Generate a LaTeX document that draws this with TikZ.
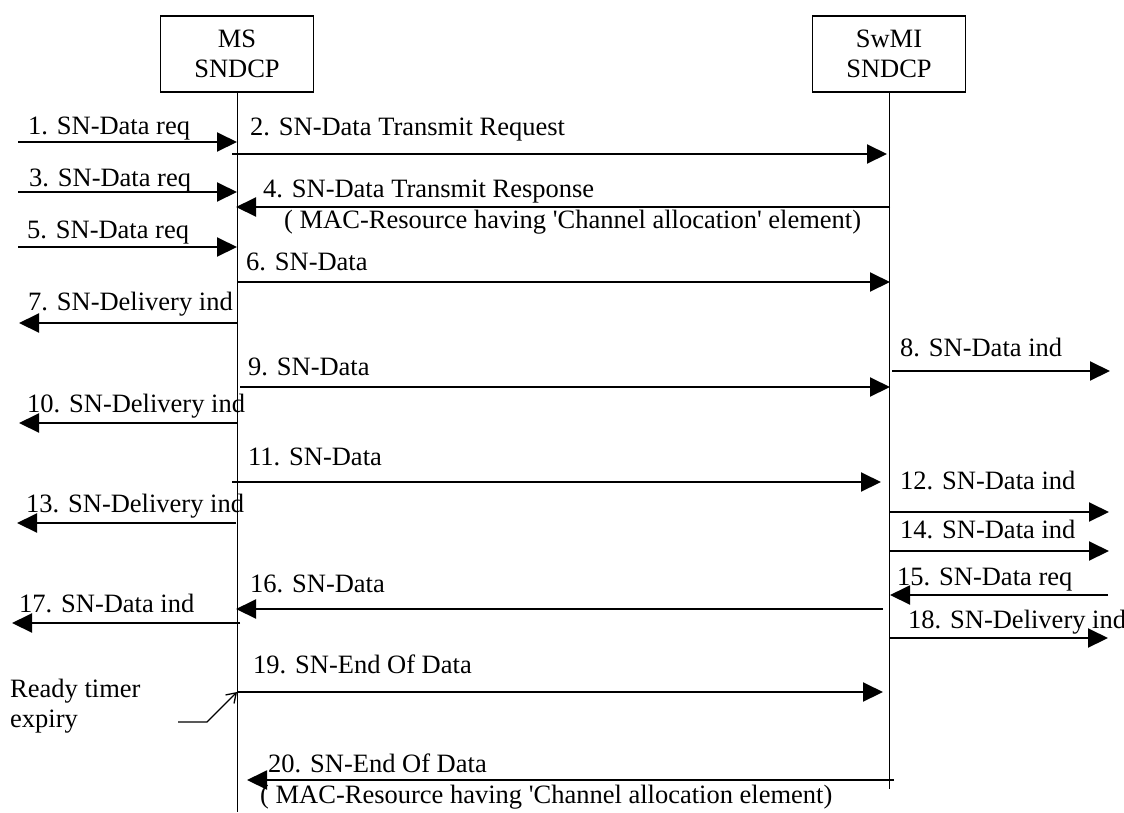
\documentclass[tikz,border=0pt]{standalone}
\usepackage{fontspec}
\setmainfont{Liberation Serif}
\usetikzlibrary{positioning,arrows.meta}
\tikzset{
  flowarrow/.style={-{Triangle[length=20pt, width=19pt]}, line width=2pt},
  timerarrow/.style={-{Straight Barb[length=9pt, width=12pt]}, line width=1.3pt},
  lifeline/.style={line width=1pt},
  entitybox/.style={draw, line width=1.6pt, minimum width=153pt, minimum height=76pt, align=center, inner sep=0pt},
  msglabel/.style={anchor=base west, inner sep=0pt},
  notelabel/.style={anchor=north west, inner sep=0pt, align=left}
}

\begin{document}
\begin{tikzpicture}[x=1pt, y=-1pt, every node/.style={font=\fontsize{26.5}{30}\selectfont}]
  \useasboundingbox (0,0) rectangle (1124,812);
  % the two SNDCP entities
  \node[entitybox] (ms) at (237,54) {MS\\SNDCP};
  \node[entitybox] (swmi) at (889,54) {SwMI\\SNDCP};
  \coordinate (msend) at (237,812);
  \coordinate (swmiend) at (889,789);
  \draw[lifeline] (ms.south) -- (msend);
  \draw[lifeline] (swmi.south) -- (swmiend);

  % 1 - 5
  \coordinate (m1s) at (18,142);  \coordinate (m1e) at (237,142);
  \draw[flowarrow] (m1s) -- (m1e);
  \node[msglabel] (l1) at (28,134) {1. SN-Data req};
  \coordinate (m2s) at (232,154); \coordinate (m2e) at (887,154);
  \draw[flowarrow] (m2s) -- (m2e);
  \node[msglabel] (l2) at (250,135) {2. SN-Data Transmit Request};
  \coordinate (m3s) at (18,192);  \coordinate (m3e) at (237,192);
  \draw[flowarrow] (m3s) -- (m3e);
  \node[msglabel] (l3) at (29,186) {3. SN-Data req};
  \coordinate (m4s) at (890,207); \coordinate (m4e) at (236,207);
  \draw[flowarrow] (m4s) -- (m4e);
  \node[msglabel] (l4) at (263,197) {4. SN-Data Transmit Response};
  \node[msglabel] (l4b) at (284,228) {( MAC-Resource having \textquotesingle Channel allocation\textquotesingle{} element)};
  \coordinate (m5s) at (18,247);  \coordinate (m5e) at (237,247);
  \draw[flowarrow] (m5s) -- (m5e);
  \node[msglabel] (l5) at (27,238) {5. SN-Data req};

  % 6 - 10
  \coordinate (m6s) at (237,282); \coordinate (m6e) at (890,282);
  \draw[flowarrow] (m6s) -- (m6e);
  \node[msglabel] (l6) at (246,270) {6. SN-Data};
  \coordinate (m7s) at (237,323); \coordinate (m7e) at (19,323);
  \draw[flowarrow] (m7s) -- (m7e);
  \node[msglabel] (l7) at (28,310) {7. SN-Delivery ind};
  \coordinate (m8s) at (892,371); \coordinate (m8e) at (1110,371);
  \draw[flowarrow] (m8s) -- (m8e);
  \node[msglabel] (l8) at (900,356) {8. SN-Data ind};
  \coordinate (m9s) at (240,387); \coordinate (m9e) at (890,387);
  \draw[flowarrow] (m9s) -- (m9e);
  \node[msglabel] (l9) at (248,375) {9. SN-Data};
  \coordinate (m10s) at (237,423); \coordinate (m10e) at (19,423);
  \draw[flowarrow] (m10s) -- (m10e);
  \node[msglabel] (l10) at (27,412) {10. SN-Delivery ind};

  % 11 - 15
  \coordinate (m11s) at (232,482); \coordinate (m11e) at (881,482);
  \draw[flowarrow] (m11s) -- (m11e);
  \node[msglabel] (l11) at (248,465) {11. SN-Data};
  \coordinate (m12s) at (890,512); \coordinate (m12e) at (1109,512);
  \draw[flowarrow] (m12s) -- (m12e);
  \node[msglabel] (l12) at (900,489) {12. SN-Data ind};
  \coordinate (m13s) at (236,523); \coordinate (m13e) at (17,523);
  \draw[flowarrow] (m13s) -- (m13e);
  \node[msglabel] (l13) at (26,512) {13. SN-Delivery ind};
  \coordinate (m14s) at (890,551); \coordinate (m14e) at (1109,551);
  \draw[flowarrow] (m14s) -- (m14e);
  \node[msglabel] (l14) at (900,538) {14. SN-Data ind};
  \coordinate (m15s) at (1108,595); \coordinate (m15e) at (890,595);
  \draw[flowarrow] (m15s) -- (m15e);
  \node[msglabel] (l15) at (897,585) {15. SN-Data req};

  % 16 - 20
  \coordinate (m16s) at (883,609); \coordinate (m16e) at (236,609);
  \draw[flowarrow] (m16s) -- (m16e);
  \node[msglabel] (l16) at (250,592) {16. SN-Data};
  \coordinate (m17s) at (240,623); \coordinate (m17e) at (12,623);
  \draw[flowarrow] (m17s) -- (m17e);
  \node[msglabel] (l17) at (19,612) {17. SN-Data ind};
  \coordinate (m18s) at (890,638); \coordinate (m18e) at (1108,638);
  \draw[flowarrow] (m18s) -- (m18e);
  \node[msglabel] (l18) at (908,628) {18. SN-Delivery ind};
  \coordinate (m19s) at (237,692); \coordinate (m19e) at (883,692);
  \draw[flowarrow] (m19s) -- (m19e);
  \node[msglabel] (l19) at (253,673) {19. SN-End Of Data};
  \coordinate (m20s) at (894,780); \coordinate (m20e) at (247,780);
  \draw[flowarrow] (m20s) -- (m20e);
  \node[msglabel] (l20) at (268,772) {20. SN-End Of Data};
  \node[msglabel] (l20b) at (260,803) {( MAC-Resource having \textquotesingle Channel allocation element)};

  % ready timer trigger
  \node[notelabel] (timer) at (10,679) {Ready timer\\expiry};
  \coordinate (tm1) at (178,722);
  \coordinate (tm2) at (207,722);
  \draw[timerarrow] (tm1) -- (tm2) -- (m19s);
\end{tikzpicture}
\end{document}
